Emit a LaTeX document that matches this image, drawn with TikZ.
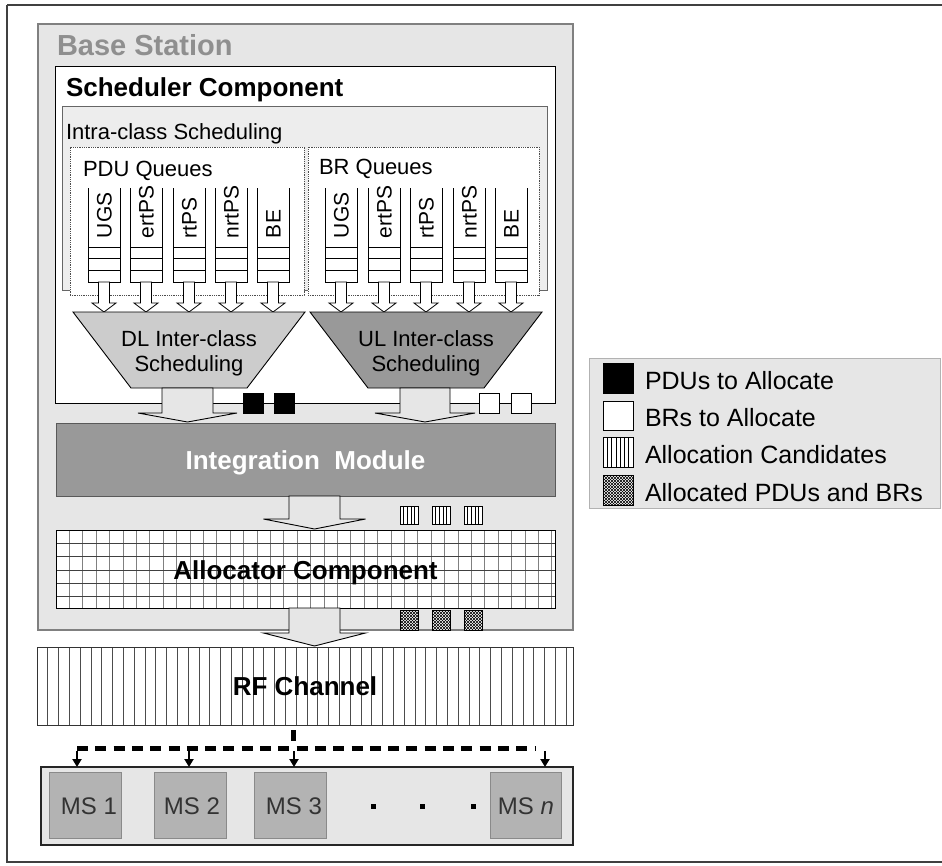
\documentclass[tikz,border=0pt]{standalone}
\usepackage{fontspec}
\setmainfont{Liberation Sans}
\usetikzlibrary{patterns,arrows.meta}
\newcommand\myfs[1]{\fontsize{#1}{#1}\selectfont}
\definecolor{bsfill}{HTML}{E6E6E6}
\definecolor{intrafill}{HTML}{EDEDED}
\definecolor{bstext}{HTML}{8F8F8F}
\definecolor{dlfill}{HTML}{CCCCCC}
\definecolor{ulfill}{HTML}{999999}
\definecolor{imfill}{HTML}{999999}
\definecolor{msfill}{HTML}{B3B3B3}
\definecolor{msdraw}{HTML}{8A8A8A}
\definecolor{mstext}{HTML}{333333}
\tikzset{
  bx/.style={rectangle, inner sep=0pt, outer sep=0pt},
  txt/.style={inner sep=0pt, outer sep=0pt},
  colstyle/.style={draw=black, line width=0.9pt, fill=white},
  qarrow/.style={draw=black, line width=0.8pt, fill=white},
  bigarrow/.style={draw=black, line width=0.9pt, fill=bsfill},
  sq/.style={bx, draw=black, line width=0.9pt},
  thickdash/.style={line width=5pt, dash pattern=on 11pt off 7.3pt},
  stem/.style={line width=2pt, -{Triangle[length=8pt,width=9pt]}},
}
% name, x1, y1, x2, y2, style
\newcommand\Rect[6]{\node[bx,#6,minimum width={(#4)-(#2)},minimum height={(#5)-(#3)}] (#1) at ({((#2)+(#4))/2},{((#3)+(#5))/2}) {};}
% cx, ytop, yhead, ytip, shaft half width, head half width, style
\newcommand\Barrow[7]{\path[#7] ({#1-#5},#2) -- ({#1-#5},#3) -- ({#1-#6},#3) -- (#1,#4) -- ({#1+#6},#3) -- ({#1+#5},#3) -- ({#1+#5},#2) -- cycle;}
% queue column: name, left x
\newcommand\Qcol[2]{%
  \path[colstyle] (#2,188) -- (#2,282) -- ({#2+32},282) -- ({#2+32},188);
  \draw[line width=0.9pt] (#2,247) -- ({#2+32},247) (#2,258.5) -- ({#2+32},258.5) (#2,270) -- ({#2+32},270);
  \coordinate (#1) at ({#2+16},282);
  \Barrow{#2+16}{282}{303}{312}{5.5}{12}{qarrow}
}
\newcommand\Qlabel[3]{\node[txt, rotate=90, anchor=base west] (#1) at ({#2+16+7.5},238) {\myfs{21}#3};}
\begin{document}
\begin{tikzpicture}[x=1pt,y=-1pt,line join=miter]
\useasboundingbox (0,0) rectangle (942,865);
\fill[white] (0,0) rectangle (942,865);
% outer frame
\draw[line width=2pt, draw=black!75] (7,5) -- (960,5) (7,5) -- (7,862) -- (960,862);
% base station
\Rect{bs}{38}{24}{573}{630}{fill=bsfill, draw=black!50, line width=1.8pt}
\node[txt, anchor=base west, text=bstext] (bst) at (57,55) {\myfs{29}\bfseries Base Station};
% scheduler
\Rect{sched}{55}{66}{555}{403}{fill=white, draw=black, line width=1pt}
\node[txt, anchor=base west] (schedt) at (66,96) {\myfs{26}\bfseries Scheduler Component};
% intra-class
\Rect{intra}{62}{106}{547}{290}{fill=intrafill, draw=black!60, line width=1pt}
\node[txt, anchor=base west] (intrat) at (66,139) {\myfs{22}Intra-class Scheduling};
% queue boxes
\Rect{pduq}{70}{147}{304}{295}{fill=white, draw=black!70, line width=0.8pt, densely dotted}
\Rect{brq}{308}{147}{539}{295}{fill=white, draw=black!70, line width=0.8pt, densely dotted}
\node[txt, anchor=base west] (pduqt) at (83,176) {\myfs{22}PDU Queues};
\node[txt, anchor=base west] (brqt) at (319,174) {\myfs{22}BR Queues};
% columns
\Qcol{p1}{88}\Qcol{p2}{130}\Qcol{p3}{173}\Qcol{p4}{215}\Qcol{p5}{257}
\Qcol{b1}{325}\Qcol{b2}{368}\Qcol{b3}{410}\Qcol{b4}{453}\Qcol{b5}{495}
\Qlabel{lp1}{88}{UGS}\Qlabel{lp2}{130}{ertPS}\Qlabel{lp3}{173}{rtPS}\Qlabel{lp4}{215}{nrtPS}\Qlabel{lp5}{257}{BE}
\Qlabel{lb1}{325}{UGS}\Qlabel{lb2}{368}{ertPS}\Qlabel{lb3}{410}{rtPS}\Qlabel{lb4}{453}{nrtPS}\Qlabel{lb5}{495}{BE}
% trapezoids
\path[draw=black, line width=0.9pt, fill=dlfill] (73,312) -- (305,312) -- (247,388) -- (131,388) -- cycle;
\path[draw=black, line width=0.9pt, fill=ulfill] (310,312) -- (542,312) -- (484,388) -- (368,388) -- cycle;
\coordinate (dl) at (189,388);
\coordinate (ul) at (426,388);
\node[txt, anchor=base] (dlt1) at (189,346) {\myfs{22}DL Inter-class};
\node[txt, anchor=base] (dlt2) at (189,371) {\myfs{22}Scheduling};
\node[txt, anchor=base] (ult1) at (426,346) {\myfs{22}UL Inter-class};
\node[txt, anchor=base] (ult2) at (426,371) {\myfs{22}Scheduling};
% integration module
\Rect{im}{56}{423}{555}{496}{fill=imfill, draw=black!65, line width=1pt}
\node[txt, anchor=base, text=white] (imt) at (305.5,469) {\myfs{26}\bfseries Integration\ \ Module};
% big arrows
\Barrow{187.5}{388}{413}{422}{25.5}{49.5}{bigarrow}
\Barrow{425}{388}{413}{422}{25}{50}{bigarrow}
% squares on scheduler edge
\Rect{pdu1}{243}{393}{263}{413}{sq, fill=black}
\Rect{pdu2}{274}{393}{294}{413}{sq, fill=black}
\Rect{br1}{479}{393}{499}{413}{sq, fill=white}
\Rect{br2}{511}{393}{531}{413}{sq, fill=white}
% allocator
\Rect{alloc}{56}{530}{555}{608}{fill=white}
\foreach \i in {1,...,37} {\draw[line width=0.8pt, draw=black!50] ({56+\i*13.4},530) -- ({56+\i*13.4},608);}
\foreach \j in {1,...,5} {\draw[line width=0.8pt, draw=black!75] (56,{530+\j*13.3}) -- (555,{530+\j*13.3});}
\draw[line width=1pt] (alloc.north west) rectangle (alloc.south east);
\node[txt, anchor=base] (alloct) at (305.5,579) {\myfs{26}\bfseries Allocator Component};
\Barrow{314.5}{496}{519}{529}{25.5}{51}{bigarrow}
% candidates
\foreach \x [count=\k] in {400,432,464} {
  \Rect{cand\k}{\x}{506}{\x+18}{524}{sq, fill=white, line width=0.8pt}
  \foreach \m in {1,...,4} {\draw[line width=0.6pt] ({\x+\m*3.6},506) -- ({\x+\m*3.6},524);}
}
% allocated
\foreach \x [count=\k] in {400,432,464} {
  \Rect{done\k}{\x}{610}{\x+18}{630}{fill=white}
  \fill[pattern=north east lines] (done\k.north west) rectangle (done\k.south east);
  \fill[pattern=north west lines] (done\k.north west) rectangle (done\k.south east);
  \draw[line width=0.8pt] (done\k.north west) rectangle (done\k.south east);
}
% RF channel
\Rect{rf}{37}{647}{573}{725}{fill=white}
\foreach \i in {1,...,49} {\draw[line width=0.7pt, draw=black!70] ({37+\i*10.8},647) -- ({37+\i*10.8},725);}
\draw[line width=1pt, draw=black!80] (rf.north west) rectangle (rf.south east);
\node[txt, anchor=base] (rft) at (305,695) {\myfs{26}\bfseries RF Channel};
\Barrow{314.5}{608}{633}{646}{25.5}{51}{bigarrow}
% mobile stations
\Rect{msc}{41}{767}{573}{845}{fill=bsfill, draw=black!85, line width=1.2pt}
\Rect{ms1}{49}{772}{121}{838}{fill=msfill, draw=msdraw, line width=1pt}
\Rect{ms2}{154}{772}{226}{838}{fill=msfill, draw=msdraw, line width=1pt}
\Rect{ms3}{254}{772}{326}{838}{fill=msfill, draw=msdraw, line width=1pt}
\Rect{msn}{490}{772}{561}{838}{fill=msfill, draw=msdraw, line width=1pt}
\node[txt, anchor=base, text=mstext] (ms1t) at (89,814) {\myfs{24}MS 1};
\node[txt, anchor=base, text=mstext] (ms2t) at (192,814) {\myfs{24}MS 2};
\node[txt, anchor=base, text=mstext] (ms3t) at (294,814) {\myfs{24}MS 3};
\node[txt, anchor=base, text=mstext] (msnt) at (526,814) {\myfs{24}MS \textit{n}};
\foreach \x [count=\k] in {373,422,473} {\Rect{dot\k}{\x-2.5}{804}{\x+2.5}{809}{fill=black}}
% dashed distribution
\coordinate (hub) at (293,748);
\draw[line width=5pt] (293,730) -- (293,741);
\draw[thickdash] (77,748) -- (535,748);
\coordinate (a1) at (77,751);
\coordinate (a2) at (189,751);
\coordinate (a3) at (294,751);
\coordinate (a4) at (545,751);
\foreach \a in {a1,a2,a3,a4} {\draw[stem] (\a) -- (\a |- msc.north);}
% legend
\Rect{legend}{589}{358}{940}{508}{fill=bsfill, draw=black!30, line width=1pt}
\Rect{lg1}{603}{363}{633}{393}{sq, fill=black}
\Rect{lg2}{603}{401}{633}{430}{sq, fill=white}
\Rect{lg3}{603}{437}{633}{467}{sq, fill=white}
\foreach \m in {1,...,6} {\draw[line width=0.6pt] ({603+\m*30/7},437) -- ({603+\m*30/7},467);}
\Rect{lg4}{603}{475}{633}{505}{fill=white}
\fill[pattern=north east lines] (lg4.north west) rectangle (lg4.south east);
\fill[pattern=north west lines] (lg4.north west) rectangle (lg4.south east);
\draw[line width=0.9pt] (lg4.north west) rectangle (lg4.south east);
\node[txt, anchor=base west] (lgt1) at (645,389) {\myfs{25}PDUs to Allocate};
\node[txt, anchor=base west] (lgt2) at (645,426) {\myfs{25}BRs to Allocate};
\node[txt, anchor=base west] (lgt3) at (645,463) {\myfs{25}Allocation Candidates};
\node[txt, anchor=base west] (lgt4) at (645,501) {\myfs{25}Allocated PDUs and BRs};
\end{tikzpicture}
\end{document}
